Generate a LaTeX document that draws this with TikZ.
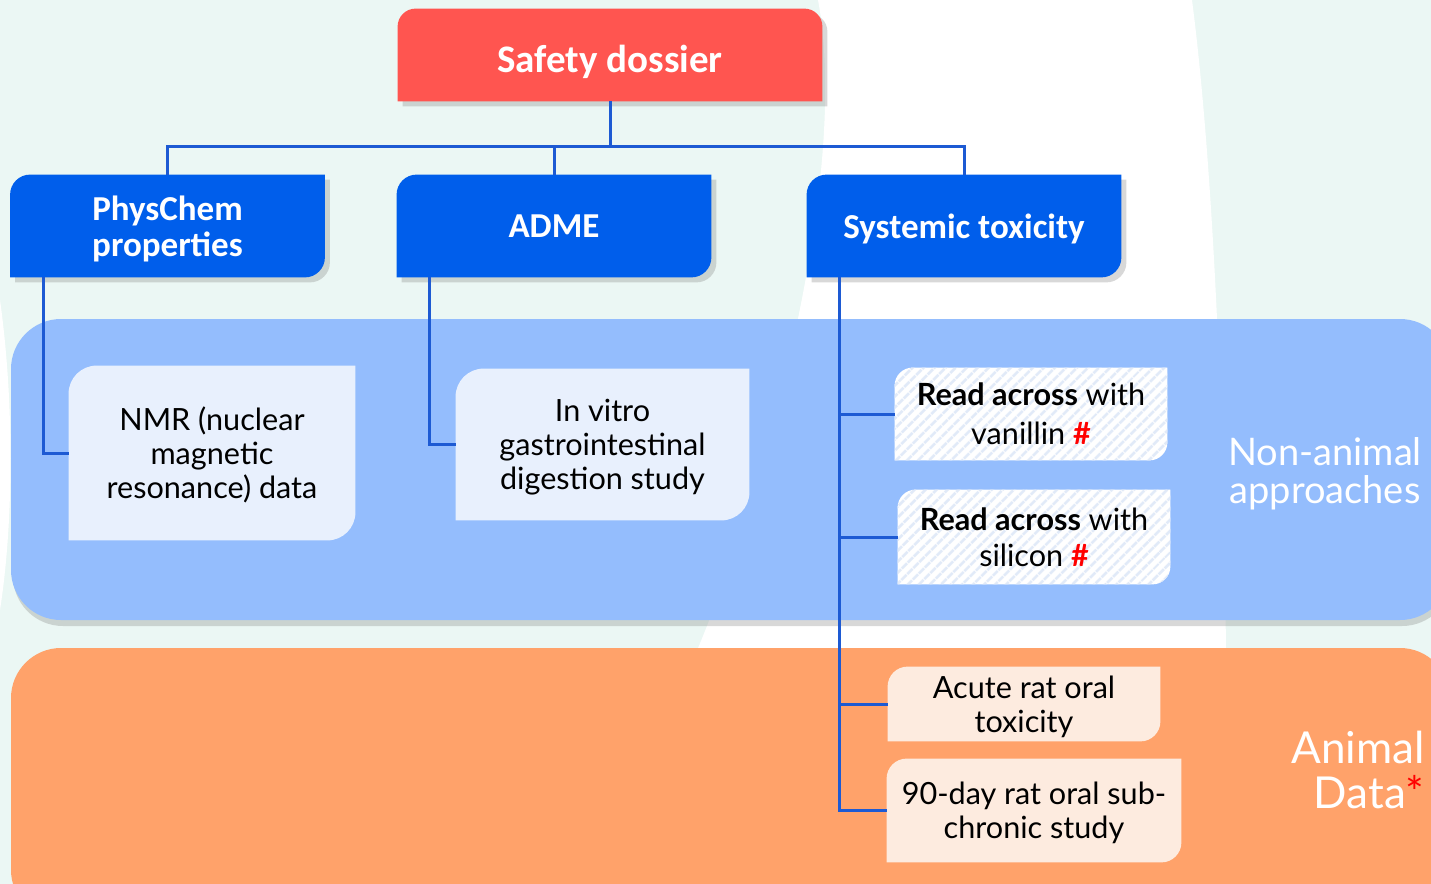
\documentclass[tikz,border=0pt]{standalone}
\usepackage{fontspec}
\setmainfont{Lato}
\newfontfamily\headfont{Carlito}
\usetikzlibrary{backgrounds,shadows,patterns.meta}
\pgfdeclarelayer{back}
\pgfsetlayers{back,background,main}

\definecolor{mint}{HTML}{EBF7F4}
\definecolor{dossierred}{HTML}{FF5550}
\definecolor{headblue}{HTML}{005EEB}
\definecolor{linkblue}{HTML}{1D5AD3}
\definecolor{namblue}{HTML}{94BDFD}
\definecolor{namlight}{HTML}{E8F0FD}
\definecolor{stripe}{HTML}{E1EAF8}
\definecolor{animorange}{HTML}{FFA26A}
\definecolor{animlight}{HTML}{FDEBDF}
\definecolor{hashred}{HTML}{FF0000}

% box outline: top left and bottom right corners rounded
\newcommand{\leafpath}[3]{%
  \path[#3] (#1.west) [rounded corners=#2] -- (#1.north west) -- (#1.north) [sharp corners] -- (#1.north east) -- (#1.east) [rounded corners=#2] -- (#1.south east) -- (#1.south) [sharp corners] -- (#1.south west) -- cycle;}

\begin{document}
\begin{tikzpicture}[x=0.5pt,y=0.5pt,yscale=-1,xscale=1,
  head/.style={minimum width=157pt, minimum height=51pt, inner sep=0pt, text depth=0pt, text=white, align=center, font=\headfont\bfseries\fontsize{17.5}{18}\selectfont},
  leaf/.style={inner sep=0pt, text depth=0pt, align=center, font=\fontsize{15.3}{17}\selectfont},
  conn/.style={draw=linkblue, line width=1.5pt},
  boxshadow/.style={drop shadow={opacity=0.3, shadow xshift=2.5pt, shadow yshift=-2.5pt}},
  side/.style={text=white, align=center, inner sep=0pt}]
			
			\useasboundingbox (0,0) rectangle (1431,884);
			
			\begin{pgfonlayer}{back}
			% Backdrop
			\fill[mint] (0,0) rectangle (1431,884);
			\fill[white] (818,0) .. controls (850,170) and (770,480) .. (693,660) -- (693,884) -- (1226,884) -- (1226,650) .. controls (1222,300) and (1205,100) .. (1192,0) -- cycle;
			\fill[white] (0,300) .. controls (14,400) and (14,520) .. (0,610) -- cycle;
			% Non-animal panel
			\fill[namblue, rounded corners=25pt, drop shadow={opacity=0.3, shadow xshift=1pt, shadow yshift=-3pt}] (11,319) rectangle (1450,620);
			% Animal panel
			\fill[animorange, rounded corners=25pt] (11,648) rectangle (1450,920);
			\end{pgfonlayer}
			
			% Top row
			\node[head, minimum width=212pt, minimum height=46pt, text height=17.5pt, font=\headfont\bfseries\fontsize{19.5}{20}\selectfont] (sd) at (610,55) {Safety dossier};
			\node[head] (pc) at (167.5,226) {PhysChem\\properties};
			\node[head] (adme) at (554,226) {ADME};
			\node[head] (st) at (964,226) {Systemic toxicity};
			
			% Studies
			\node[leaf, minimum width=143pt, minimum height=87pt] (nmr) at (212,453) {NMR (nuclear\\magnetic\\resonance) data};
			\node[leaf, minimum width=146.5pt, minimum height=75.5pt] (ivd) at (602.5,444.5) {In vitro\\gastrointestinal\\digestion study};
			\node[leaf, minimum width=136pt, minimum height=46pt, font=\fontsize{15.3}{19.5}\selectfont] (rav) at (1031,414) {\textbf{Read across} with\\vanillin {\bfseries\color{hashred}\#}};
			\node[leaf, minimum width=136pt, minimum height=47pt, font=\fontsize{15.3}{18}\selectfont] (ras) at (1034,537) {\textbf{Read across} with\\silicon {\bfseries\color{hashred}\#}};
			\node[leaf, minimum width=136pt, minimum height=37pt] (aro) at (1024,704) {Acute rat oral\\toxicity};
			\node[leaf, minimum width=147pt, minimum height=51.5pt] (sub) at (1034,810.5) {90-day rat oral sub-\\chronic study};
			
			% Panel labels
			\node[side, font=\fontsize{19}{19}\selectfont] (na) at (1325,474) {Non-animal\\approaches};
			\node[side, align=right, anchor=east, font=\fontsize{22}{22.5}\selectfont] (ad) at (1425,770) {Animal\\Data\textcolor{hashred}{*}};
			
			% Box fills
			\begin{pgfonlayer}{background}
			\path[fill=dossierred, boxshadow] (sd.west) [rounded corners=9pt] -- (sd.north west) -- (sd.north east) -- (sd.east) [sharp corners] -- (sd.south east) -- (sd.south west) -- cycle;
			\foreach \n in {pc,adme,st} \leafpath{\n}{10pt}{fill=headblue, boxshadow};
			\foreach \n in {nmr,ivd} \leafpath{\n}{14pt}{fill=namlight};
			\foreach \n in {rav,ras} \leafpath{\n}{9pt}{fill=white, postaction={pattern={Lines[angle=45,distance=4pt,line width=1.5pt]}, pattern color=stripe}};
			\foreach \n in {aro,sub} \leafpath{\n}{10pt}{fill=animlight};
			\end{pgfonlayer}
			
			% Connectors
			\draw[conn] (sd.south) -- ++(0,45) -| (pc.north);
			\draw[conn] (sd.south) -- ++(0,45) -| (adme.north);
			\draw[conn] (sd.south) -- ++(0,45) -| (st.north);
			\draw[conn] ([xshift=16.5pt]pc.south west) |- (nmr.west);
			\draw[conn] ([xshift=16.5pt]adme.south west) |- (ivd.west);
			\foreach \n in {rav,ras,aro,sub} \draw[conn] ([xshift=16.5pt]st.south west) |- (\n.west);
		\end{tikzpicture}
\end{document}
